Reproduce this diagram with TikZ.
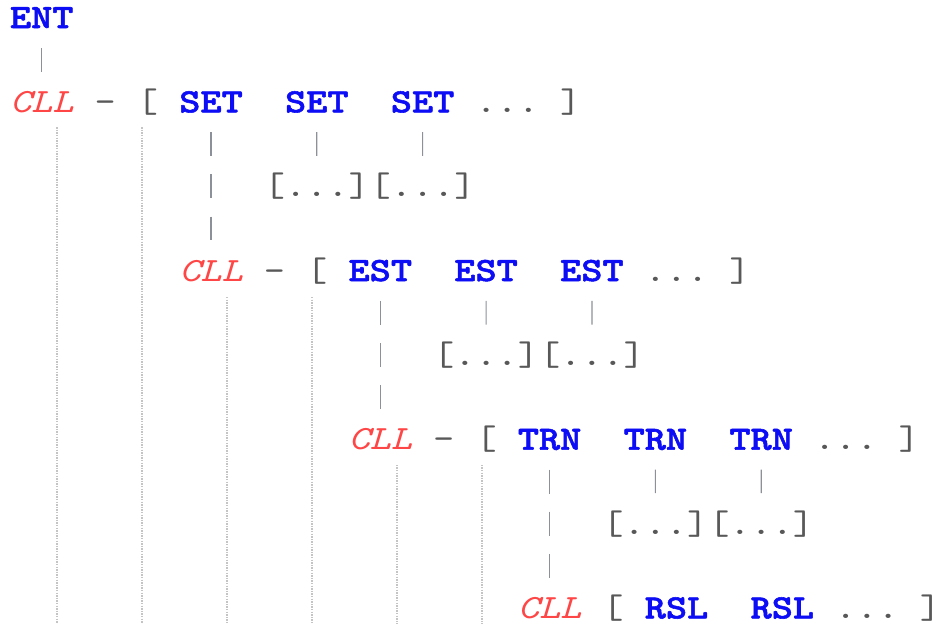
\documentclass[tikz,border=0pt]{standalone}
\usepackage{fontspec}
% slab-serif typewriter face, widened so one character fills one 21.16pt cell
\newfontfamily\codefont{lmmono10-regular}[Extension=.otf,
  BoldFont=lmmonolt10-bold, BoldFeatures={FakeBold=1.6},
  ItalicFont=lmmono10-italic, FakeStretch=1.1854]
\definecolor{kwblue}{RGB}{12,12,245}
\definecolor{cllred}{RGB}{255,70,70}
\definecolor{punct}{RGB}{88,88,88}
\definecolor{barcol}{RGB}{140,144,152}
\definecolor{guidecol}{RGB}{196,196,196}
\tikzset{
  tok/.style={inner sep=0pt, outer sep=0pt, anchor=base west, text=punct,
    font=\codefont\fontsize{34pt}{42pt}\selectfont},
  kw/.style={tok, text=kwblue, font=\codefont\bfseries\fontsize{34pt}{42pt}\selectfont},
  cll/.style={tok, text=cllred, font=\codefont\itshape\fontsize{34pt}{42pt}\selectfont},
  vbar/.style={draw=barcol, line width=1.2pt, dash pattern=on 24pt off 18.2pt},
  guide/.style={draw=guidecol, line width=1.6pt, dash pattern=on 1.4pt off 1.2pt},
}
\begin{document}
\begin{tikzpicture}[x=21.16pt,y=-42.17pt]
\useasboundingbox (-0.4726,-0.664) rectangle (43.904,14.133);

% indentation guides
\foreach \c/\r in {2.22/2.35, 6.24/2.35, 10.26/6.38, 14.27/6.38, 18.29/10.36, 22.31/10.36}
  \draw[guide] (\c,\r) -- (\c,14.14);

% level 0
\node[kw]  (ent)  at (0,0) {ENT};
\node[cll] (cll1) at (0,2) {CLL};
\node[tok] (dsh1) at (4,2) {-};
\node[tok] (lb1)  at (6,2) {[};
\node[kw]  (set1) at (8,2) {SET};
\node[kw]  (set2) at (13,2) {SET};
\node[kw]  (set3) at (18,2) {SET};
\node[tok] (dot1) at (22,2) {...};
\node[tok] (rb1)  at (26,2) {]};
\node[tok] (sub1a) at (12,4) {[...]};
\node[tok] (sub1b) at (17,4) {[...]};

% level 1
\node[cll] (cll2) at (8,6) {CLL};
\node[tok] (dsh2) at (12,6) {-};
\node[tok] (lb2)  at (14,6) {[};
\node[kw]  (est1) at (16,6) {EST};
\node[kw]  (est2) at (21,6) {EST};
\node[kw]  (est3) at (26,6) {EST};
\node[tok] (dot2) at (30,6) {...};
\node[tok] (rb2)  at (34,6) {]};
\node[tok] (sub2a) at (20,8) {[...]};
\node[tok] (sub2b) at (25,8) {[...]};

% level 2
\node[cll] (cll3) at (16,10) {CLL};
\node[tok] (dsh3) at (20,10) {-};
\node[tok] (lb3)  at (22,10) {[};
\node[kw]  (trn1) at (24,10) {TRN};
\node[kw]  (trn2) at (29,10) {TRN};
\node[kw]  (trn3) at (34,10) {TRN};
\node[tok] (dot3) at (38,10) {...};
\node[tok] (rb3)  at (42,10) {]};
\node[tok] (sub3a) at (28,12) {[...]};
\node[tok] (sub3b) at (33,12) {[...]};

% level 3
\node[cll] (cll4) at (24,14) {CLL};
\node[tok] (lb4)  at (28,14) {[};
\node[kw]  (rsl1) at (30,14) {RSL};
\node[kw]  (rsl2) at (35,14) {RSL};
\node[tok] (dot4) at (39,14) {...};
\node[tok] (rb4)  at (43,14) {]};

% vertical connectors
\foreach \p/\c in {ent/cll1, set1/cll2, set2/sub1a, set3/sub1b,
                   est1/cll3, est2/sub2a, est3/sub2b,
                   trn1/cll4, trn2/sub3a, trn3/sub3b}
  \draw[vbar] ([yshift=-19.8pt]\p.base) -- ([yshift=40.8pt]\c.base);
\end{tikzpicture}
\end{document}
